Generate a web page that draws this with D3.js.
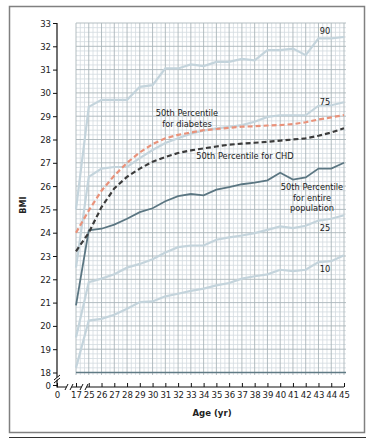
<!DOCTYPE html>
<html>
<head>
<meta charset="utf-8">
<script src="https://cdn.jsdelivr.net/npm/d3@7"></script>
<style>
  body { margin: 0; background: #fff; }
  svg text { font-family: 'Liberation Sans Narrow', 'DejaVu Sans Condensed', 'Liberation Sans', sans-serif; fill: #222; }
</style>
</head>
<body>
<div id="chart"></div>
<script>
// ages on the x axis (17 then a break, then 25..45)
const ages = [17, 25, 26, 27, 28, 29, 30, 31, 32, 33, 34, 35, 36, 37, 38, 39, 40, 41, 42, 43, 44, 45];
const bmiTicks = [18, 19, 20, 21, 22, 23, 24, 25, 26, 27, 28, 29, 30, 31, 32, 33];

// percentile curves for the whole population
const p90 = [25.0, 29.4, 29.7, 29.7, 29.7, 30.26, 30.33, 31.05, 31.05, 31.22, 31.15, 31.33, 31.33, 31.46, 31.4, 31.84, 31.84, 31.9, 31.62, 32.34, 32.34, 32.4];
const p75 = [22.5, 26.4, 26.75, 26.82, 26.82, 27.2, 27.55, 27.85, 28.05, 28.25, 28.38, 28.48, 28.54, 28.62, 28.76, 28.97, 29.04, 29.04, 29.04, 29.45, 29.47, 29.6];
const p50 = [20.88, 24.1, 24.17, 24.35, 24.6, 24.88, 25.05, 25.35, 25.57, 25.66, 25.6, 25.85, 25.96, 26.08, 26.15, 26.25, 26.57, 26.28, 26.37, 26.75, 26.75, 27.0];
const p25 = [19.5, 21.88, 22.03, 22.22, 22.5, 22.66, 22.86, 23.15, 23.38, 23.45, 23.45, 23.7, 23.8, 23.88, 23.98, 24.12, 24.27, 24.2, 24.3, 24.52, 24.6, 24.75];
const p10 = [18.2, 20.23, 20.3, 20.48, 20.74, 21.02, 21.05, 21.27, 21.38, 21.5, 21.6, 21.74, 21.84, 22.03, 22.13, 22.21, 22.41, 22.35, 22.41, 22.74, 22.78, 23.03];

// median of the two disease groups
const diabetes = [24.0, 24.95, 25.8, 26.45, 27.0, 27.45, 27.8, 28.05, 28.2, 28.3, 28.4, 28.45, 28.5, 28.55, 28.57, 28.6, 28.62, 28.66, 28.74, 28.86, 28.95, 29.05];
const chd = [23.2, 24.0, 25.1, 25.9, 26.4, 26.75, 27.05, 27.25, 27.42, 27.53, 27.62, 27.7, 27.78, 27.82, 27.86, 27.9, 27.95, 28.0, 28.05, 28.16, 28.3, 28.48];

const width = 375, height = 443;
const svg = d3.select('#chart').append('svg')
  .attr('width', width).attr('height', height);

// outer frame
svg.append('rect')
  .attr('x', 9.5).attr('y', 6.5).attr('width', 355).attr('height', 426)
  .attr('fill', 'none').attr('stroke', '#808080').attr('stroke-width', 1.5);
svg.append('line')
  .attr('x1', 9).attr('x2', 366).attr('y1', 437.5).attr('y2', 437.5)
  .attr('stroke', '#333').attr('stroke-width', 1.2);

// scales
const x = d3.scalePoint().domain(ages).range([76, 344]);
const y = d3.scaleLinear().domain([18, 33]).range([372.5, 23]);
const step = x.step();

// grid: minor lines first, then majors
const grid = svg.append('g');
const minorX = [];
ages.forEach(a => { for (let k = 1; k < 3; k++) if (a !== 45) minorX.push(x(a) + k * step / 3); });
const minorY = d3.range(18, 33, 0.2).filter(v => Math.abs(v - Math.round(v)) > 0.01);

grid.selectAll('.mx').data(minorX).enter().append('line')
  .attr('x1', d => d).attr('x2', d => d).attr('y1', y(33)).attr('y2', y(18) + 2.5)
  .attr('stroke', '#d3dbdf').attr('stroke-width', 0.8);
grid.selectAll('.my').data(minorY).enter().append('line')
  .attr('x1', x(17)).attr('x2', x(45) + 2).attr('y1', d => y(d)).attr('y2', d => y(d))
  .attr('stroke', '#d3dbdf').attr('stroke-width', 0.8);
grid.selectAll('.Mx').data(ages).enter().append('line')
  .attr('x1', d => x(d)).attr('x2', d => x(d)).attr('y1', y(33)).attr('y2', y(18) + 2.5)
  .attr('stroke', '#aab5ba').attr('stroke-width', 0.9);
grid.selectAll('.My').data(bmiTicks.slice(1)).enter().append('line')
  .attr('x1', x(17)).attr('x2', x(45) + 2).attr('y1', d => y(d)).attr('y2', d => y(d))
  .attr('stroke', '#aab5ba').attr('stroke-width', 0.9);
grid.append('line')
  .attr('x1', x(17)).attr('x2', x(45) + 2).attr('y1', y(18)).attr('y2', y(18))
  .attr('stroke', '#5f7a84').attr('stroke-width', 1.4);

// curves
const line = d3.line().x((d, i) => x(ages[i])).y(d => y(d));
const series = [
  { data: p10, color: '#c4d4dc', width: 2.2, dash: null },
  { data: p25, color: '#c4d4dc', width: 2.2, dash: null },
  { data: p75, color: '#c4d4dc', width: 2.2, dash: null },
  { data: p90, color: '#c4d4dc', width: 2.2, dash: null },
  { data: p50, color: '#5b7682', width: 1.8, dash: null },
  { data: chd, color: '#3b3b3b', width: 2.2, dash: '5,3' },
  { data: diabetes, color: '#e9927a', width: 2.2, dash: '5,3' }
];
svg.selectAll('.curve').data(series).enter().append('path')
  .attr('class', 'curve')
  .attr('d', d => line(d.data))
  .attr('fill', 'none')
  .attr('stroke', d => d.color)
  .attr('stroke-width', d => d.width)
  .attr('stroke-dasharray', d => d.dash);

// axes
const yAxis = svg.append('g').attr('transform', 'translate(57,0)')
  .call(d3.axisLeft(y).tickValues(bmiTicks).tickSize(4).tickPadding(2));
const y0 = d3.scaleLinear().domain([0, 1]).range([385, 375]);
const yAxis0 = svg.append('g').attr('transform', 'translate(57,0)')
  .call(d3.axisLeft(y0).tickValues([0]).tickFormat(d3.format('d')).tickSize(4).tickPadding(2));
const xAxis = svg.append('g').attr('transform', 'translate(0,387)')
  .call(d3.axisBottom(x).tickSize(-4).tickPadding(4));
const x0 = d3.scaleLinear().domain([0, 1]).range([57, 67]);
const xAxis0 = svg.append('g').attr('transform', 'translate(0,387)')
  .call(d3.axisBottom(x0).tickValues([0]).tickFormat(d3.format('d')).tickSize(-4).tickPadding(4));

[yAxis, yAxis0, xAxis, xAxis0].forEach(g => {
  g.select('.domain').remove();
  g.selectAll('line').attr('stroke', '#111');
  g.selectAll('text').attr('font-size', 9.5).attr('fill', '#222');
});

// axis lines
svg.append('line').attr('x1', 57).attr('x2', 57).attr('y1', y(33)).attr('y2', 387.5)
  .attr('stroke', '#111').attr('stroke-width', 1.2);
svg.append('line').attr('x1', 57).attr('x2', x(45)).attr('y1', 387).attr('y2', 387)
  .attr('stroke', '#111').attr('stroke-width', 1.2);

// break marks
function breakMark(cx, cy) {
  const g = svg.append('g').attr('transform', `translate(${cx},${cy})`);
  g.append('polygon').attr('points', '-4,3 -1,-3 4,-3 1,3').attr('fill', '#fff');
  g.append('line').attr('x1', -4).attr('y1', 3).attr('x2', -1).attr('y2', -3).attr('stroke', '#111');
  g.append('line').attr('x1', 1).attr('y1', 3).attr('x2', 4).attr('y2', -3).attr('stroke', '#111');
}
function breakMarkV(cx, cy) {
  const g = svg.append('g').attr('transform', `translate(${cx},${cy})`);
  g.append('polygon').attr('points', '-3,3 3,-2 3,0 -3,5').attr('fill', '#fff');
  g.append('line').attr('x1', -3).attr('y1', 3).attr('x2', 3).attr('y2', -2).attr('stroke', '#111');
  g.append('line').attr('x1', -3).attr('y1', 6).attr('x2', 3).attr('y2', 1).attr('stroke', '#111');
}
breakMarkV(57, 377);
breakMark(69, 387);
breakMark(84, 387);

// axis titles
svg.append('text')
  .attr('transform', 'translate(26,205) rotate(-90)')
  .attr('text-anchor', 'middle')
  .attr('font-size', 9).attr('font-weight', 'bold')
  .text('BMI');
svg.append('text')
  .attr('x', 212).attr('y', 416)
  .attr('text-anchor', 'middle')
  .attr('font-size', 9.5).attr('font-weight', 'bold')
  .text('Age (yr)');

// curve labels
const labels = [
  { lines: ['90'], x: 325, y: 34 },
  { lines: ['75'], x: 325, y: 105 },
  { lines: ['50th Percentile', 'for diabetes'], x: 187, y: 116 },
  { lines: ['50th Percentile for CHD'], x: 245, y: 159 },
  { lines: ['50th Percentile', 'for entire', 'population'], x: 312, y: 190 },
  { lines: ['25'], x: 325, y: 231 },
  { lines: ['10'], x: 325, y: 272 }
];
labels.forEach(l => {
  const t = svg.append('text')
    .attr('x', l.x).attr('y', l.y)
    .attr('text-anchor', 'middle')
    .attr('font-size', 9.2);
  l.lines.forEach((s, i) => {
    t.append('tspan').attr('x', l.x).attr('dy', i === 0 ? 0 : 10.5).text(s);
  });
});
</script>
</body>
</html>
